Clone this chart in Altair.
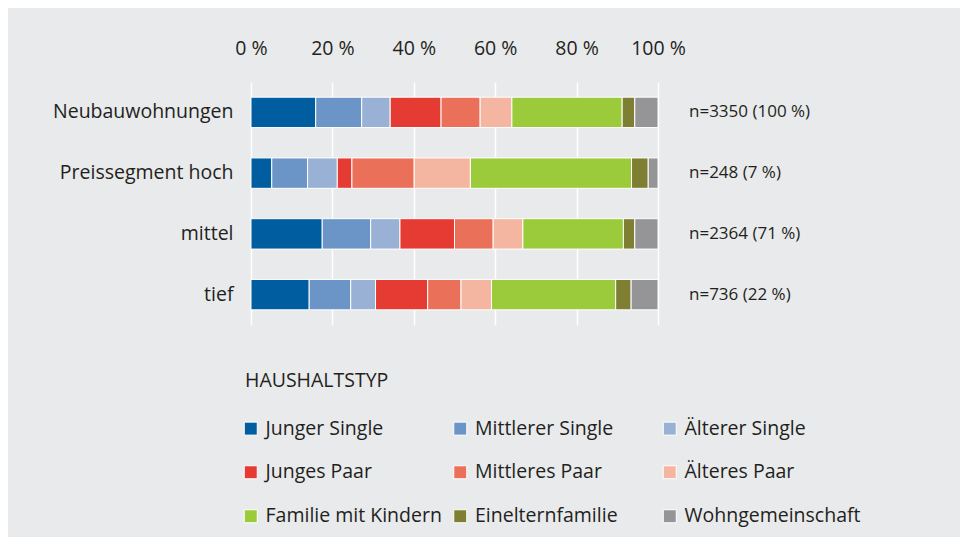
import altair as alt
import pandas as pd

rows = ["Neubauwohnungen", "Preissegment hoch", "mittel", "tief"]
n_labels = ["n=3350 (100 %)", "n=248 (7 %)", "n=2364 (71 %)", "n=736 (22 %)"]

categories = [
    "Junger Single", "Mittlerer Single", "Älterer Single",
    "Junges Paar", "Mittleres Paar", "Älteres Paar",
    "Familie mit Kindern", "Einelternfamilie", "Wohngemeinschaft",
]
colors = [
    "#005ea0", "#6a95c6", "#98b1d4",
    "#e63b33", "#eb705a", "#f4b6a1",
    "#9bcb3b", "#7e7f32", "#959598",
]

# Anteile in % je Zeile (Neubauwohnungen, hoch, mittel, tief)
junger_single = [15.9, 5.1, 17.5, 14.3]
mittlerer_single = [11.3, 8.8, 11.9, 10.2]
aelterer_single = [7.0, 7.3, 7.2, 6.1]
junges_paar = [12.5, 3.6, 13.4, 12.8]
mittleres_paar = [9.6, 15.3, 9.5, 8.2]
aelteres_paar = [7.8, 13.8, 7.3, 7.5]
familie = [27.1, 39.6, 24.7, 30.5]
einelternfamilie = [3.1, 4.1, 2.8, 3.8]
wohngemeinschaft = [5.7, 2.4, 5.7, 6.6]

values = [junger_single, mittlerer_single, aelterer_single,
          junges_paar, mittleres_paar, aelteres_paar,
          familie, einelternfamilie, wohngemeinschaft]

x_ticks = [0, 20, 40, 60, 80, 100]

records = []
for ci, (cat, vals) in enumerate(zip(categories, values)):
    for r, v in zip(rows, vals):
        records.append({"Zeile": r, "Haushaltstyp": cat, "Anteil": v, "ord": ci})
df = pd.DataFrame(records)
labels_df = pd.DataFrame({"Zeile": rows, "n": n_labels})

FONT = "Open Sans"
TXT = "#231f20"
BG = "#e9eaec"
FS = 19.5

y_enc = alt.Y(
    "Zeile:N", sort=rows,
    scale=alt.Scale(paddingInner=0.5, paddingOuter=0.25),
    axis=alt.Axis(title=None, domain=False, ticks=False, labelFontSize=FS,
                  labelPadding=18, labelColor=TXT, labelFont=FONT, labelLimit=400),
)

bars = alt.Chart(df).mark_bar(stroke="white", strokeWidth=1).encode(
    x=alt.X(
        "Anteil:Q", stack="zero",
        scale=alt.Scale(domain=[0, 100], nice=False),
        axis=alt.Axis(orient="top", values=x_ticks, labelExpr="datum.value + ' %'",
                      title=None, domain=False, ticks=False, grid=True,
                      gridColor="white", gridWidth=1.5, labelFontSize=FS,
                      labelPadding=24, labelColor=TXT, labelFont=FONT,
                      labelFlush=False, labelOverlap=False),
    ),
    y=y_enc,
    color=alt.Color(
        "Haushaltstyp:N", sort=categories,
        scale=alt.Scale(domain=categories, range=colors),
        legend=alt.Legend(
            orient="none", legendX=-6, legendY=290, columns=3, direction="horizontal",
            title="HAUSHALTSTYP", titleFontSize=FS, titleFontWeight="normal",
            titleColor=TXT, titleFont=FONT, titlePadding=27, titleAnchor="start",
            labelFontSize=FS, labelFont=FONT, labelColor=TXT, labelLimit=400,
            labelOffset=5, symbolOffset=-4, symbolType="square", symbolSize=169,
            symbolStrokeColor="white", symbolStrokeWidth=1, symbolOpacity=1,
            rowPadding=23, columnPadding=9.5, gridAlign="all",
        ),
    ),
    order=alt.Order("ord:Q"),
)

text = alt.Chart(labels_df).mark_text(
    align="left", baseline="middle", dx=31, fontSize=17, font=FONT, color=TXT
).encode(
    x=alt.datum(100),
    y=alt.Y("Zeile:N", sort=rows),
    text="n:N",
)

chart = (
    alt.layer(bars, text)
    .properties(
        width=407, height=243,
        autosize=alt.AutoSizeParams(type="none"),
        padding={"left": 243, "top": 74, "right": 302, "bottom": 212},
        background=BG,
    )
    .configure_view(stroke=None)
)

chart.save("out.html", embed_options={"renderer": "svg", "actions": False})
